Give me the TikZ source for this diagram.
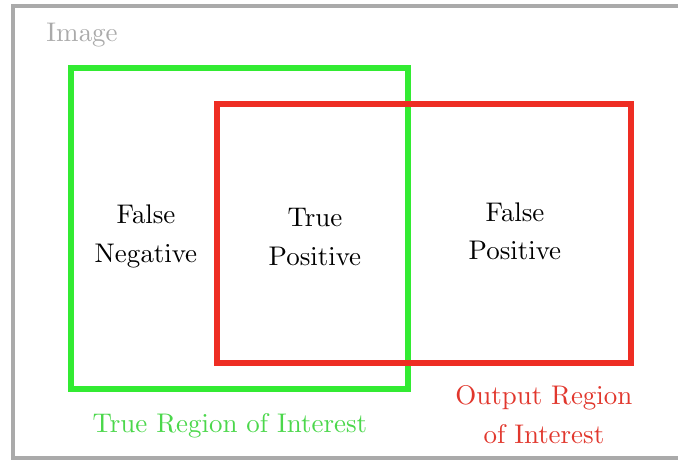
\documentclass[tikz,border=0pt]{standalone}
\definecolor{framegray}{RGB}{170,170,170}
\definecolor{roigreen}{RGB}{50,235,50}
\definecolor{outred}{RGB}{238,45,35}
\definecolor{roitext}{RGB}{75,215,75}
\definecolor{outtext}{RGB}{225,55,45}
\font\lblfont=cmr10 at 23pt
\newcommand\lblsize{\lblfont\baselineskip=33pt\relax}
\tikzset{
  lbl/.style={align=center, font=\lblsize, inner sep=0pt}
}
\begin{document}
\begin{tikzpicture}[x=0.03cm, y=-0.03cm]
  \useasboundingbox (0,0) rectangle (678,461);

  % image frame (open on the right)
  \draw [framegray, line width=3.4pt] (690,6) -- (13,6) -- (13,458) -- (690,458);
  \node [lbl, text=framegray] (image) at (82,35) {Image};

  % true region of interest
  \draw [roigreen, line width=4.3pt] (71,68) rectangle (408,389);

  % output region of interest
  \draw [outred, line width=4.3pt] (217,104) rectangle (631,363);

  % labels inside
  \node [lbl] (fn) at (146,236) {False\\Negative};
  \node [lbl] (tp) at (315,237) {True\\Positive};
  \node [lbl] (fp) at (515,231) {False\\Positive};

  % labels below
  \node [lbl, text=roitext] (roi) at (230,426) {True Region of Interest};
  \node [lbl, text=outtext] (out) at (544,415) {Output Region\\of Interest};

\end{tikzpicture}
\end{document}
